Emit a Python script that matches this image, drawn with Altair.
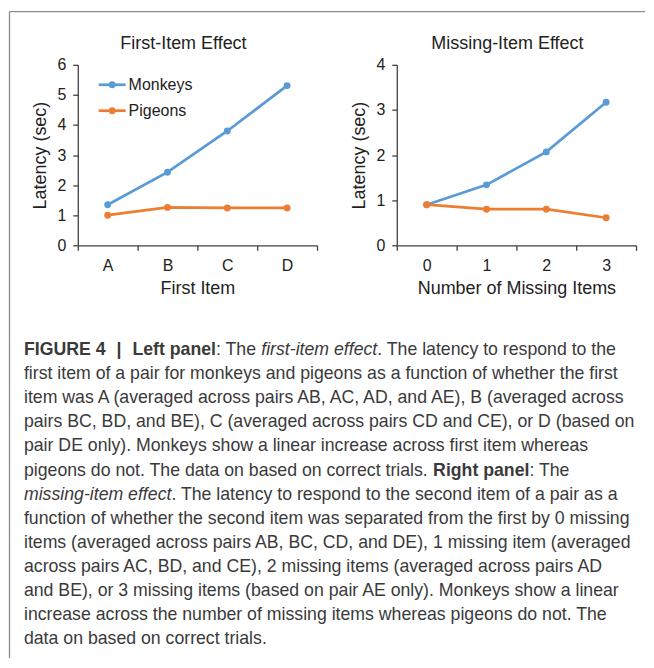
import altair as alt
import pandas as pd

# ---------------- data ----------------
first_items = ["A", "B", "C", "D"]
missing_counts = ["0", "1", "2", "3"]
series_names = ["Monkeys", "Pigeons"]
series_colors = ["#5B9BD5", "#ED7D31"]

monkeys_first = [1.35, 2.43, 3.80, 5.31]
pigeons_first = [1.00, 1.26, 1.24, 1.24]
monkeys_missing = [0.90, 1.34, 2.07, 3.17]
pigeons_missing = [0.90, 0.80, 0.80, 0.61]

left_ticks = [0, 1, 2, 3, 4, 5, 6]
right_ticks = [0, 1, 2, 3, 4]

left_title = "First-Item Effect"
right_title = "Missing-Item Effect"
left_xtitle = "First Item"
right_xtitle = "Number of Missing Items"
y_title = "Latency (sec)"

caption = [
    [("b", "FIGURE 4"), ("gap", 11), ("b", "|"), ("gap", 11), ("b", "Left panel"),
     ("r", ": The "), ("i", "first-item effect"), ("r", ". The latency to respond to the")],
    [("r", "first item of a pair for monkeys and pigeons as a function of whether the first")],
    [("r", "item was A (averaged across pairs AB, AC, AD, and AE), B (averaged across")],
    [("r", "pairs BC, BD, and BE), C (averaged across pairs CD and CE), or D (based on")],
    [("r", "pair DE only). Monkeys show a linear increase across first item whereas")],
    [("r", "pigeons do not. The data on based on correct trials. "), ("b", "Right panel"), ("r", ": The")],
    [("i", "missing-item effect"), ("r", ". The latency to respond to the second item of a pair as a")],
    [("r", "function of whether the second item was separated from the first by 0 missing")],
    [("r", "items (averaged across pairs AB, BC, CD, and DE), 1 missing item (averaged")],
    [("r", "across pairs AC, BD, and CE), 2 missing items (averaged across pairs AD")],
    [("r", "and BE), or 3 missing items (based on pair AE only). Monkeys show a linear")],
    [("r", "increase across the number of missing items whereas pigeons do not. The")],
    [("r", "data on based on correct trials.")],
]

# ---------------- style ----------------
FONT = "Liberation Sans"
TXT = "#222222"
CAP = "#3a3a3a"
AX = "#404040"
FRAME = "#8c8c8c"
W, H = 240, 181
TICK_FS = 16

# Arial-compatible advance widths (1/1000 em) for segment layout
def _tbl(pairs):
    d = {}
    for chars, w in pairs:
        for ch in chars:
            d[ch] = w
    return d

REG = _tbl([(" ,.:;/", 278), ("-()", 333), ("|", 260), ("0123456789", 556),
            ("ABEKPSVXY", 667), ("CDHNRUw", 722), ("FTZ", 611), ("GOQ", 778), ("I", 278),
            ("J", 500), ("L", 556), ("Mm", 833), ("W", 944),
            ("abdeghnopqu", 556), ("ckstvxyz", 500), ("ft", 278), ("ijl", 222), ("r", 333)])
REG["k"] = 500; REG["s"] = 500; REG["t"] = 278
BOLD = _tbl([(" ,.", 278), (":;-()", 333), ("|", 280), ("0123456789", 556),
             ("ABCDHKNRU", 722), ("EPSVXY", 667), ("FTZL", 611), ("GOQ", 778), ("I", 278),
             ("J", 556), ("M", 833), ("W", 944),
             ("ae", 556), ("bdghnopqu", 611), ("cksvxy", 556), ("ft", 333), ("ijl", 278),
             ("m", 889), ("r", 389), ("w", 778), ("z", 500)])


def text_w(s, style, size):
    tb = BOLD if style == "b" else REG
    return sum(tb.get(ch, 556) for ch in s) * size / 1000.0


one = pd.DataFrame({"k": [0]})


def ann_text(x, y, txt, size, color=TXT, align="left", baseline="alphabetic",
             weight="normal", style="normal"):
    return alt.Chart(one).mark_text(
        text=txt, font=FONT, fontSize=size, color=color, align=align,
        baseline=baseline, fontWeight=weight, fontStyle=style
    ).encode(x=alt.value(x), y=alt.value(y))


def axis_y(values):
    return alt.Axis(values=values, grid=False, domainColor=AX, domainWidth=1.3,
                    tickColor=AX, tickWidth=1.3, tickSize=5, labelPadding=7,
                    labelFont=FONT, labelFontSize=TICK_FS, labelColor=TXT,
                    titleFont=FONT, titleFontSize=18, titleFontWeight="normal",
                    titleColor=TXT, titleX=-32, titleBaseline="alphabetic")


def axis_x():
    return alt.Axis(tickBand="extent", labelAngle=0, grid=False, domainColor=AX,
                    domainWidth=1.3, tickColor=AX, tickWidth=1.3, tickSize=5,
                    labelPadding=20, labelBaseline="alphabetic",
                    labelFont=FONT, labelFontSize=TICK_FS, labelColor=TXT,
                    titleFont=FONT, titleFontSize=18, titleFontWeight="normal",
                    titleColor=TXT, titleY=48, titleBaseline="alphabetic")


color_enc = alt.Color("series:N", scale=alt.Scale(domain=series_names, range=series_colors),
                      legend=None)


def panel(cats, mvals, pvals, ticks, xtitle, title, title_x):
    df = pd.DataFrame({
        "cat": cats * 2,
        "series": [series_names[0]] * len(cats) + [series_names[1]] * len(cats),
        "latency": mvals + pvals,
    })
    x = alt.X("cat:N", sort=cats, title=xtitle,
              scale=alt.Scale(type="band", paddingInner=0, paddingOuter=0), axis=axis_x())
    y = alt.Y("latency:Q", title=y_title,
              scale=alt.Scale(domain=[ticks[0], ticks[-1]], nice=False), axis=axis_y(ticks))
    base = alt.Chart(df)
    lines = base.mark_line(strokeWidth=2.75).encode(x=x, y=y, color=color_enc)
    pts = base.mark_point(filled=True, size=48, opacity=1).encode(x=x, y=y, color=color_enc)
    ttl = ann_text(title_x, -16, title, 18, align="center")
    return [lines, pts, ttl]


left_layers = panel(first_items, monkeys_first, pigeons_first, left_ticks,
                    left_xtitle, left_title, 106)
right_layers = panel(missing_counts, monkeys_missing, pigeons_missing, right_ticks,
                     right_xtitle, right_title, 111)

# legend (manual, Excel style)
for name, col, ly in zip(series_names, series_colors, [20, 46]):
    left_layers.append(alt.Chart(one).mark_rule(color=col, strokeWidth=2.75).encode(
        x=alt.value(21), x2=alt.value(48), y=alt.value(ly)))
    left_layers.append(alt.Chart(one).mark_point(filled=True, size=48, opacity=1, color=col).encode(
        x=alt.value(34.5), y=alt.value(ly)))
    left_layers.append(ann_text(51, ly, name, 16, baseline="middle"))

# frame (top and left border of the figure box)
left_layers.append(alt.Chart(one).mark_rule(color=FRAME, strokeWidth=1.3).encode(
    x=alt.value(-68.5), y=alt.value(-53.3), y2=alt.value(595)))
left_layers.append(alt.Chart(one).mark_rule(color=FRAME, strokeWidth=1.3).encode(
    x=alt.value(-68.5), x2=alt.value(569), y=alt.value(-53.3)))

# caption
CAP_SIZE = 17.75
x0, y0, step = -54, 291, 24.2
for i, line in enumerate(caption):
    cx = x0
    cy = y0 + i * step
    for style, seg in line:
        if style == "gap":
            cx += seg
            continue
        shown = seg.strip()
        lead = text_w(seg[: len(seg) - len(seg.lstrip())], style, CAP_SIZE)
        left_layers.append(ann_text(
            cx + lead, cy, shown, CAP_SIZE, color=CAP,
            weight="bold" if style == "b" else "normal",
            style="italic" if style == "i" else "normal"))
        cx += text_w(seg, style, CAP_SIZE)

left = alt.layer(*left_layers).properties(width=W, height=H)
right = alt.layer(*right_layers).properties(width=W, height=H)

chart = alt.hconcat(left, right, spacing=80, bounds="flush").properties(
    padding={"left": 0, "top": 2, "right": 0, "bottom": 0}
).configure_view(strokeWidth=0).configure_axis(
    labelFontSize=TICK_FS, labelFont=FONT, labelColor=TXT
)

chart.save("out.html", embed_options={"renderer": "svg", "actions": False})
